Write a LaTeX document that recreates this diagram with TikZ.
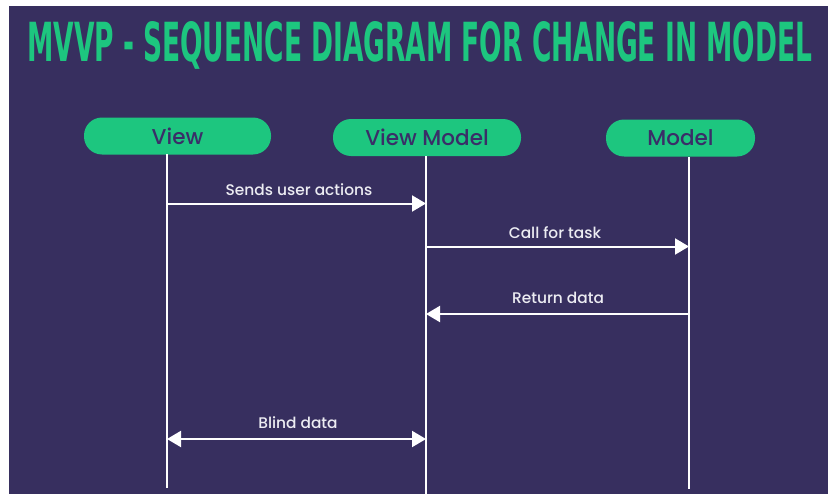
\documentclass[tikz,border=0pt]{standalone}
\usepackage{fontspec}
\usetikzlibrary{arrows.meta}
\setmainfont{Poppins Medium}
\newfontfamily\titlefont{DejaVu Sans Condensed Bold}
\definecolor{bgpurple}{RGB}{55,47,95}
\definecolor{mintgreen}{RGB}{29,198,127}
\definecolor{pilltext}{RGB}{58,46,104}
\definecolor{msgtext}{RGB}{236,236,242}
\tikzset{
  actor/.style={fill=mintgreen, rounded corners=18pt, minimum height=37pt,
    inner sep=0pt, text=pilltext, font=\fontsize{21.5}{25}\selectfont},
  lifeline/.style={draw=white, line width=2.2pt},
  message/.style={draw=white, line width=2pt,
    -{Triangle[length=14pt, width=16pt]}},
  twoway/.style={draw=white, line width=2pt,
    {Triangle[length=14pt, width=16pt]}-{Triangle[length=14pt, width=16pt]}},
  msglabel/.style={text=msgtext, inner sep=0pt, font=\fontsize{15.4}{18}\selectfont}
}
\begin{document}
\begin{tikzpicture}[x=1pt, y=-1pt]
  % canvas and its backdrop
  \useasboundingbox (0,0) rectangle (828,495);
  \fill[white] (0,0) rectangle (828,495);
  \fill[bgpurple] (9,6) rectangle (828,494);

  % heading
  \node[anchor=base west, inner sep=0pt, text=mintgreen] (title) at (27,62)
    {\resizebox{785pt}{40pt}{\titlefont MVVP - SEQUENCE DIAGRAM FOR CHANGE IN MODEL}};

  % participants
  \node[actor, minimum width=187pt] (view) at (177.5,136) {View};
  \node[actor, minimum width=188pt] (vm) at (427,137.5) {View Model};
  \node[actor, minimum width=149pt] (model) at (680.5,138) {Model};

  % lifeline ends
  \coordinate (vtop) at (167,154);
  \coordinate (vbot) at (167,488);
  \coordinate (vmtop) at (426,156);
  \coordinate (vmbot) at (426,494);
  \coordinate (mtop) at (689,157);
  \coordinate (mbot) at (689,489);
  \draw[lifeline] (vtop) -- (vbot);
  \draw[lifeline] (vmtop) -- (vmbot);
  \draw[lifeline] (mtop) -- (mbot);

  % message anchors on the lifelines
  \coordinate (v1) at (167,203.5);
  \coordinate (vm1) at (426,203.5);
  \coordinate (vm2) at (426,246.5);
  \coordinate (m2) at (689,246.5);
  \coordinate (m3) at (689,314);
  \coordinate (vm3) at (426,314);
  \coordinate (v4) at (167,439);
  \coordinate (vm4) at (426,439);

  % messages
  \draw[message] (v1) -- (vm1);
  \draw[message] (vm2) -- (m2);
  \draw[message] (m3) -- (vm3);
  \draw[twoway] (v4) -- (vm4);

  % message labels
  \node[msglabel] (l1) at (299,189.5) {Sends user actions};
  \node[msglabel] (l2) at (555,233) {Call for task};
  \node[msglabel] (l3) at (558,297.5) {Return data};
  \node[msglabel] (l4) at (298,423) {Blind data};
\end{tikzpicture}
\end{document}
